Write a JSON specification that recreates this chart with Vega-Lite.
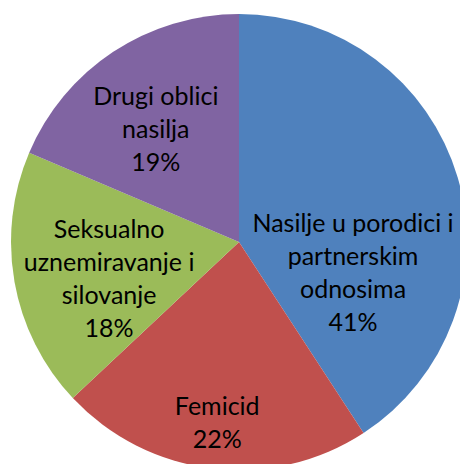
{
  "$schema": "https://vega.github.io/schema/vega-lite/v6.json",
  "autosize": "none",
  "width": 442,
  "height": 444,
  "padding": {"left": 18, "top": 20, "right": 0, "bottom": 0},
  "background": "white",
  "config": {"view": {"stroke": null}},
  "data": {
    "values": [
      {"n": 1, "cat": "Nasilje u porodici i partnerskim odnosima", "value": 40.8, "label": "Nasilje u porodici i\npartnerskim\nodnosima\n41%"},
      {"n": 2, "cat": "Femicid", "value": 22.2, "label": "Femicid\n22%"},
      {"n": 3, "cat": "Seksualno uznemiravanje i silovanje", "value": 18.4, "label": "Seksualno\nuznemiravanje i\nsilovanje\n18%"},
      {"n": 4, "cat": "Drugi oblici nasilja", "value": 18.6, "label": "Drugi oblici\nnasilja\n19%"}
    ]
  },
  "encoding": {
    "theta": {"field": "value", "type": "quantitative", "stack": true},
    "order": {"field": "n", "type": "quantitative"}
  },
  "layer": [
    {
      "mark": {"type": "arc", "radius": 228},
      "encoding": {
        "color": {
          "field": "cat",
          "type": "nominal",
          "legend": null,
          "scale": {
            "domain": ["Nasilje u porodici i partnerskim odnosima", "Femicid", "Seksualno uznemiravanje i silovanje", "Drugi oblici nasilja"],
            "range": ["#4F81BD", "#C0504D", "#9BBB59", "#8064A2"]
          }
        }
      }
    },
    {
      "mark": {"type": "text", "radius": 120, "dx": -1, "dy": 16, "font": "Lato", "fontSize": 25, "lineHeight": 33, "lineBreak": "\n", "align": "center", "baseline": "middle", "color": "black"},
      "encoding": {"text": {"condition": {"test": "datum.n === 1", "field": "label"}, "value": ""}}
    },
    {
      "mark": {"type": "text", "radius": 183, "dx": 0, "dy": -17, "font": "Lato", "fontSize": 25, "lineHeight": 33, "lineBreak": "\n", "align": "center", "baseline": "middle", "color": "black"},
      "encoding": {"text": {"condition": {"test": "datum.n === 2", "field": "label"}, "value": ""}}
    },
    {
      "mark": {"type": "text", "radius": 136, "dx": 4, "dy": -36, "font": "Lato", "fontSize": 25, "lineHeight": 33, "lineBreak": "\n", "align": "center", "baseline": "middle", "color": "black"},
      "encoding": {"text": {"condition": {"test": "datum.n === 3", "field": "label"}, "value": ""}}
    },
    {
      "mark": {"type": "text", "radius": 140, "dx": -6, "dy": -28, "font": "Lato", "fontSize": 25, "lineHeight": 33, "lineBreak": "\n", "align": "center", "baseline": "middle", "color": "black"},
      "encoding": {"text": {"condition": {"test": "datum.n === 4", "field": "label"}, "value": ""}}
    }
  ]
}
